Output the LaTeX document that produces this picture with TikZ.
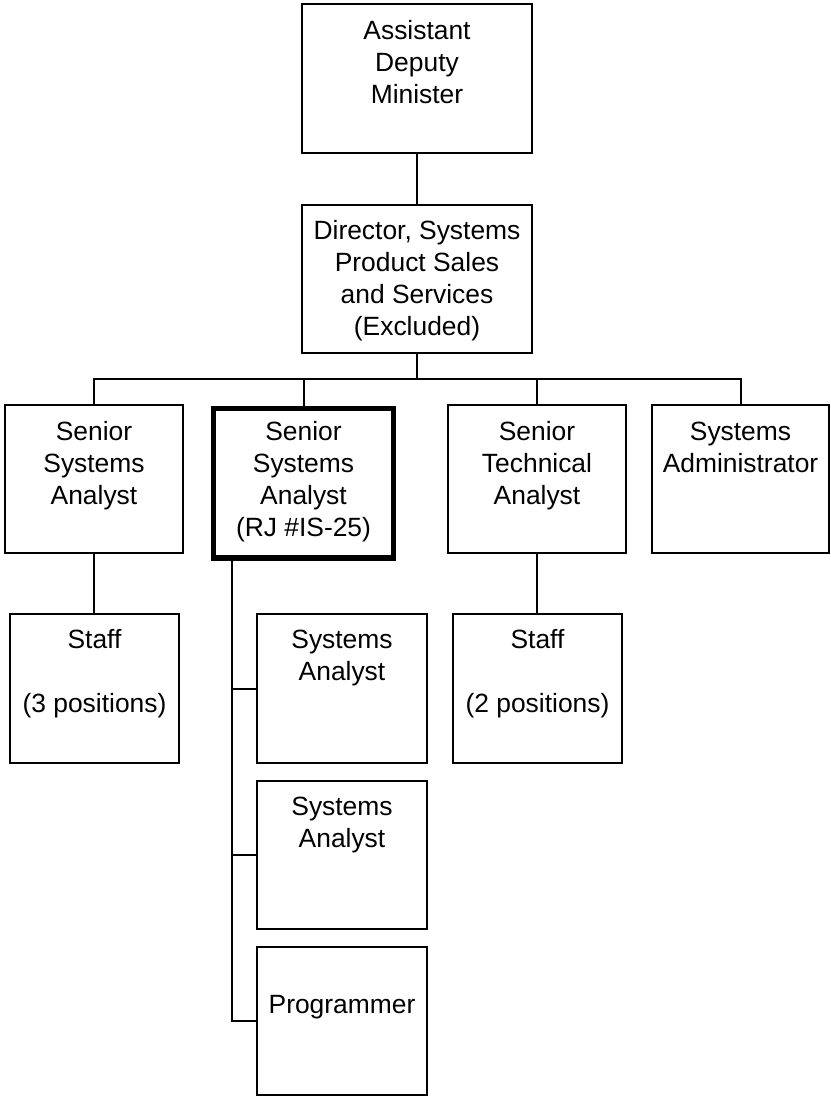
\documentclass[tikz,border=0pt]{standalone}
\usepackage{fontspec}
\setmainfont{Liberation Sans}
\newcommand{\boxtxt}[4]{\parbox[c][#2][t]{#1}{\centering\fontsize{26.4pt}{32pt}\selectfont\rule{0pt}{#3}#4}}
\tikzset{
  orgbox/.style={draw, line width=2pt, inner sep=0pt, outer sep=0pt, anchor=north west},
  focusbox/.style={orgbox, line width=5.5pt},
  link/.style={line width=2pt}
}
\begin{document}
\begin{tikzpicture}[x=1pt,y=-1pt]
\useasboundingbox (0,0) rectangle (830,1097);
% level 1-2
\node[orgbox] (adm) at (302,4.5) {\boxtxt{230pt}{148.5pt}{35pt}{Assistant\\Deputy\\Minister}};
\node[orgbox] (dir) at (302,205) {\boxtxt{230pt}{148pt}{34.5pt}{Director, Systems\\Product Sales\\and Services\\(Excluded)}};
% level 3
\node[orgbox] (b1) at (5,405) {\boxtxt{178pt}{148pt}{35pt}{Senior\\Systems\\Analyst}};
\node[focusbox] (b2) at (213.5,408.5) {\boxtxt{180pt}{149.5pt}{32pt}{Senior\\Systems\\Analyst\\(RJ \#IS-25)}};
\node[orgbox] (b3) at (448,405) {\boxtxt{178pt}{148pt}{35pt}{Senior\\Technical\\Analyst}};
\node[orgbox] (b4) at (652,405) {\boxtxt{177pt}{148pt}{35pt}{Systems\\Administrator}};
% level 4
\node[orgbox] (s1) at (10,614) {\boxtxt{169pt}{149pt}{34pt}{Staff\\\mbox{}\\(3 positions)}};
\node[orgbox] (sa1) at (257,614) {\boxtxt{170pt}{149pt}{34pt}{Systems\\Analyst}};
\node[orgbox] (sa2) at (257,781) {\boxtxt{170pt}{148pt}{34pt}{Systems\\Analyst}};
\node[orgbox] (prog) at (257,947) {\boxtxt{170pt}{148pt}{34pt}{\mbox{}\\Programmer}};
\node[orgbox] (s2) at (453,614) {\boxtxt{169pt}{149pt}{34pt}{Staff\\\mbox{}\\(2 positions)}};
% connectors
\coordinate (bj) at (417,379);
\coordinate (spx) at (232,0);
\draw[link] (adm.south) -- (dir.north);
\draw[link] (dir.south) -- (bj);
\draw[link] (b1.north) -- (b1.north |- bj) -- (b4.north |- bj) -- (b4.north);
\draw[link] (b2.north) -- (b2.north |- bj);
\draw[link] (b3.north) -- (b3.north |- bj);
\draw[link] (b1.south) -- (b1.south |- s1.north);
\draw[link] (b3.south) -- (b3.south |- s2.north);
\draw[link] (spx |- b2.south) |- (prog.west);
\draw[link] (spx |- sa1.west) -- (sa1.west);
\draw[link] (spx |- sa2.west) -- (sa2.west);
\end{tikzpicture}
\end{document}
